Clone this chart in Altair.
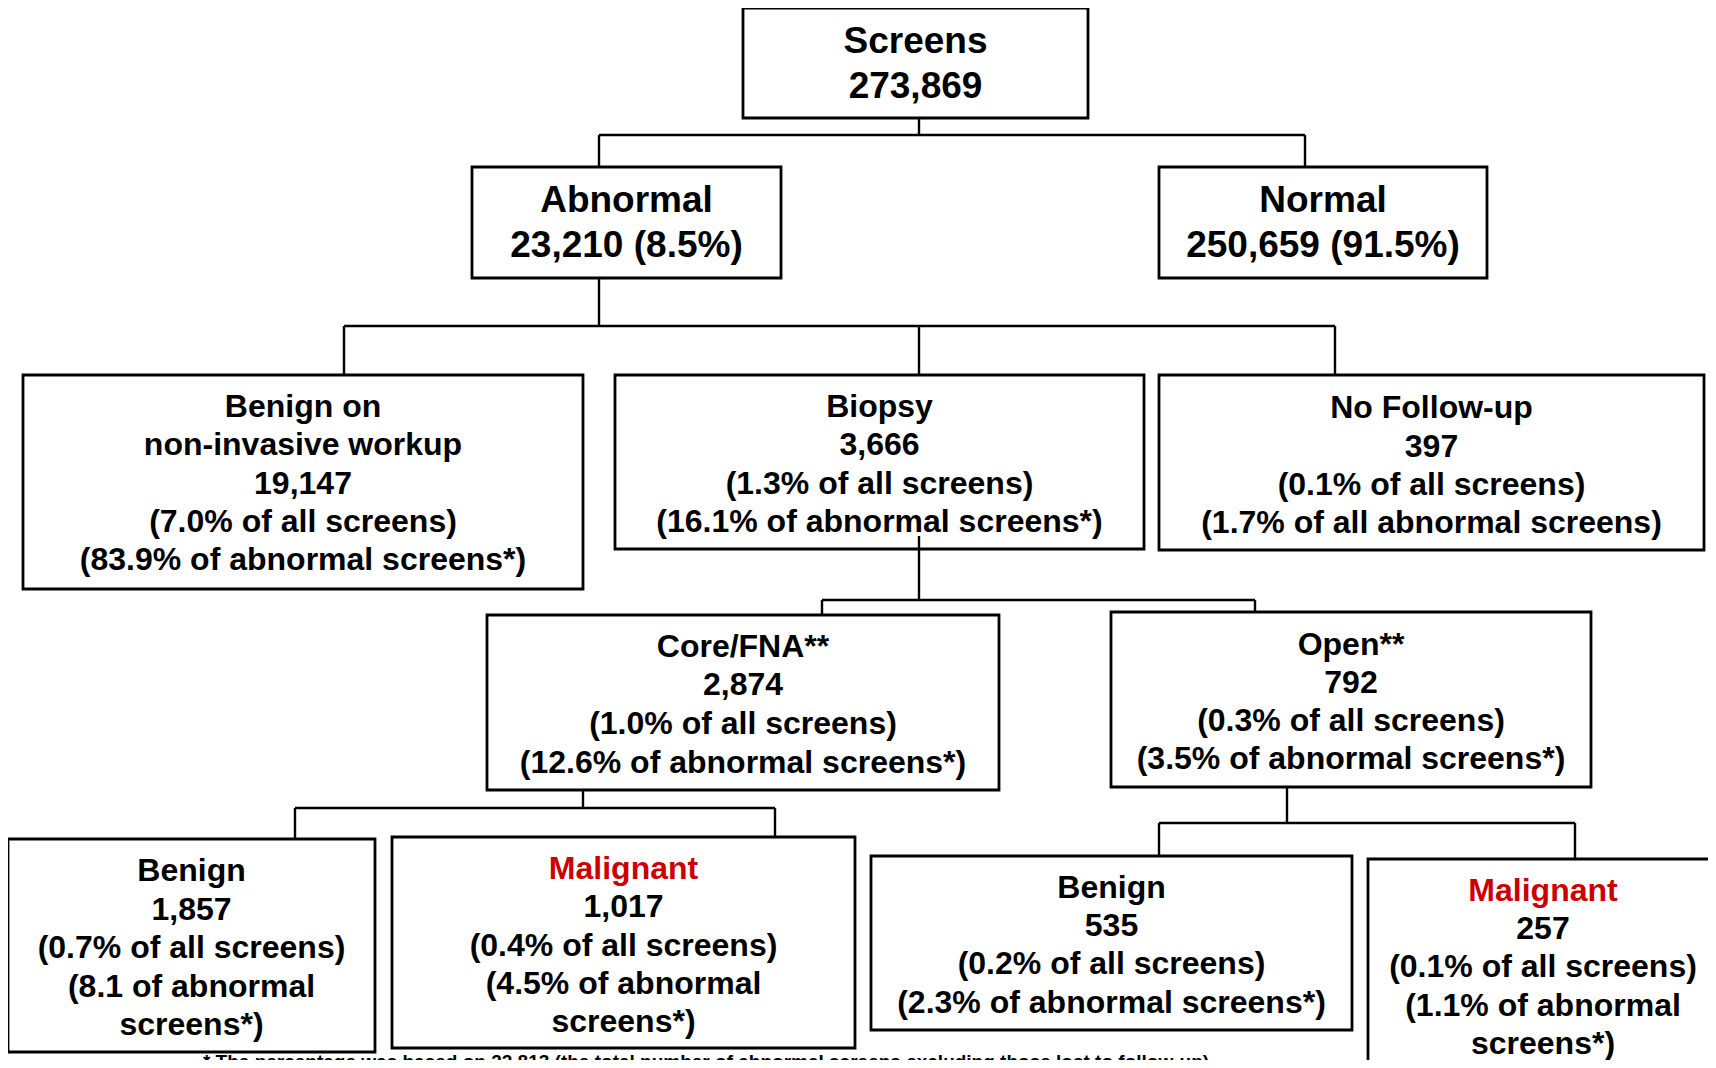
import altair as alt
import pandas as pd

# ---- chart content (text values) ----
box_ids = ["screens", "abnormal", "normal", "benign_ni", "biopsy", "nofollow",
           "core", "open", "core_benign", "core_malig", "open_benign", "open_malig"]
box_titles = ["Screens", "Abnormal", "Normal", "Benign on", "Biopsy", "No Follow-up",
              "Core/FNA**", "Open**", "Benign", "Malignant", "Benign", "Malignant"]
box_lines = [
    ["273,869"],
    ["23,210 (8.5%)"],
    ["250,659 (91.5%)"],
    ["non-invasive workup", "19,147", "(7.0% of all screens)", "(83.9% of abnormal screens*)"],
    ["3,666", "(1.3% of all screens)", "(16.1% of abnormal screens*)"],
    ["397", "(0.1% of all screens)", "(1.7% of all abnormal screens)"],
    ["2,874", "(1.0% of all screens)", "(12.6% of abnormal screens*)"],
    ["792", "(0.3% of all screens)", "(3.5% of abnormal screens*)"],
    ["1,857", "(0.7% of all screens)", "(8.1 of abnormal", "screens*)"],
    ["1,017", "(0.4% of all screens)", "(4.5% of abnormal", "screens*)"],
    ["535", "(0.2% of all screens)", "(2.3% of abnormal screens*)"],
    ["257", "(0.1% of all screens)", "(1.1% of abnormal", "screens*)"],
]
malignant_ids = ["core_malig", "open_malig"]
footnote = "* The percentage was based on 22,813 (the total number of abnormal screens excluding those lost to follow-up)"

# ---- layout (page pixel positions) ----
layout = {
    #             x0    x1    y0   y1   first-line y, spacing, font size
    "screens":    (743, 1088,   8, 118,  41.6, 44.9, 37),
    "abnormal":   (472,  781, 167, 278, 201.4, 44.8, 37),
    "normal":     (1159, 1487, 167, 278, 201.4, 44.8, 37),
    "benign_ni":  (23,   583, 375, 589, 407.1, 38.3, 32),
    "biopsy":     (615, 1144, 375, 549, 407.1, 38.3, 32),
    "nofollow":   (1159, 1704, 375, 550, 408.2, 38.3, 32),
    "core":       (487,  999, 615, 790, 646.8, 38.6, 32),
    "open":       (1111, 1591, 612, 787, 644.6, 38.0, 32),
    "core_benign":(8,    375, 839, 1052, 871.1, 38.5, 32),
    "core_malig": (392,  855, 837, 1048, 869.0, 38.3, 32),
    "open_benign":(871, 1352, 856, 1030, 887.6, 38.3, 32),
    "open_malig": (1368, 1730, 859, 1090, 890.8, 38.3, 32),
}
connectors = [
    (919, 118, 919, 135), (599, 135, 1305, 135), (599, 135, 599, 167), (1305, 135, 1305, 167),
    (599, 278, 599, 326), (344, 326, 1335, 326),
    (344, 326, 344, 375), (919, 326, 919, 375), (1335, 326, 1335, 375),
    (919, 536, 919, 600), (822, 600, 1255, 600), (822, 600, 822, 615), (1255, 600, 1255, 612),
    (583, 790, 583, 808), (295, 808, 775, 808), (295, 808, 295, 839), (775, 808, 775, 837),
    (1287, 787, 1287, 823), (1159, 823, 1575, 823), (1159, 823, 1159, 856), (1575, 823, 1575, 859),
]

boxes = pd.DataFrame([
    {"id": b, "x0": layout[b][0], "x1": layout[b][1], "y0": layout[b][2], "y1": layout[b][3]}
    for b in box_ids
])

rows = []
for b, title, lines in zip(box_ids, box_titles, box_lines):
    x0, x1, y0, y1, fy, sp, fs = layout[b]
    cx = (x0 + x1) / 2
    if b == "open_malig":
        cx = 1543
    color = "#CC0000" if b in malignant_ids else "#000000"
    rows.append({"x": cx, "y": fy, "text": title, "size": fs, "color": color})
    for i, ln in enumerate(lines):
        rows.append({"x": cx, "y": fy + sp * (i + 1), "text": ln, "size": fs, "color": "#000000"})
texts = pd.DataFrame(rows)

segs = pd.DataFrame(connectors, columns=["x1", "y1", "x2", "y2"])
foot = pd.DataFrame([{"x": 706, "y": 1068, "text": footnote}])

xs = alt.Scale(domain=[8, 1708], nice=False, zero=False)
ys = alt.Scale(domain=[8, 1060], nice=False, zero=False, reverse=True)

rect = alt.Chart(boxes).mark_rect(fill="white", stroke="#000000", strokeWidth=2.8).encode(
    x=alt.X("x0:Q", scale=xs, axis=None), x2="x1:Q",
    y=alt.Y("y0:Q", scale=ys, axis=None), y2="y1:Q",
)

lines_layer = alt.Chart(segs).mark_rule(color="#000000", strokeWidth=2.4).encode(
    x=alt.X("x1:Q", scale=xs, axis=None), x2="x2:Q",
    y=alt.Y("y1:Q", scale=ys, axis=None), y2="y2:Q",
)

text_layer = alt.Chart(texts).mark_text(
    font="Liberation Sans", fontWeight="bold", baseline="middle", align="center"
).encode(
    x=alt.X("x:Q", scale=xs, axis=None),
    y=alt.Y("y:Q", scale=ys, axis=None),
    text="text:N",
    size=alt.Size("size:Q", scale=None, legend=None),
    color=alt.Color("color:N", scale=None, legend=None),
)

foot_layer = alt.Chart(foot).mark_text(
    font="Liberation Sans", fontWeight="bold", fontSize=19, baseline="alphabetic", align="center", color="#000000"
).encode(
    x=alt.X("x:Q", scale=xs, axis=None),
    y=alt.Y("y:Q", scale=ys, axis=None),
    text="text:N",
)

chart = alt.layer(rect, lines_layer, text_layer, foot_layer).properties(
    width=1700, height=1052, padding=0, autosize="none", background="white"
).configure_view(strokeWidth=0)

chart.save("out.html", embed_options={"renderer": "svg", "actions": False})
